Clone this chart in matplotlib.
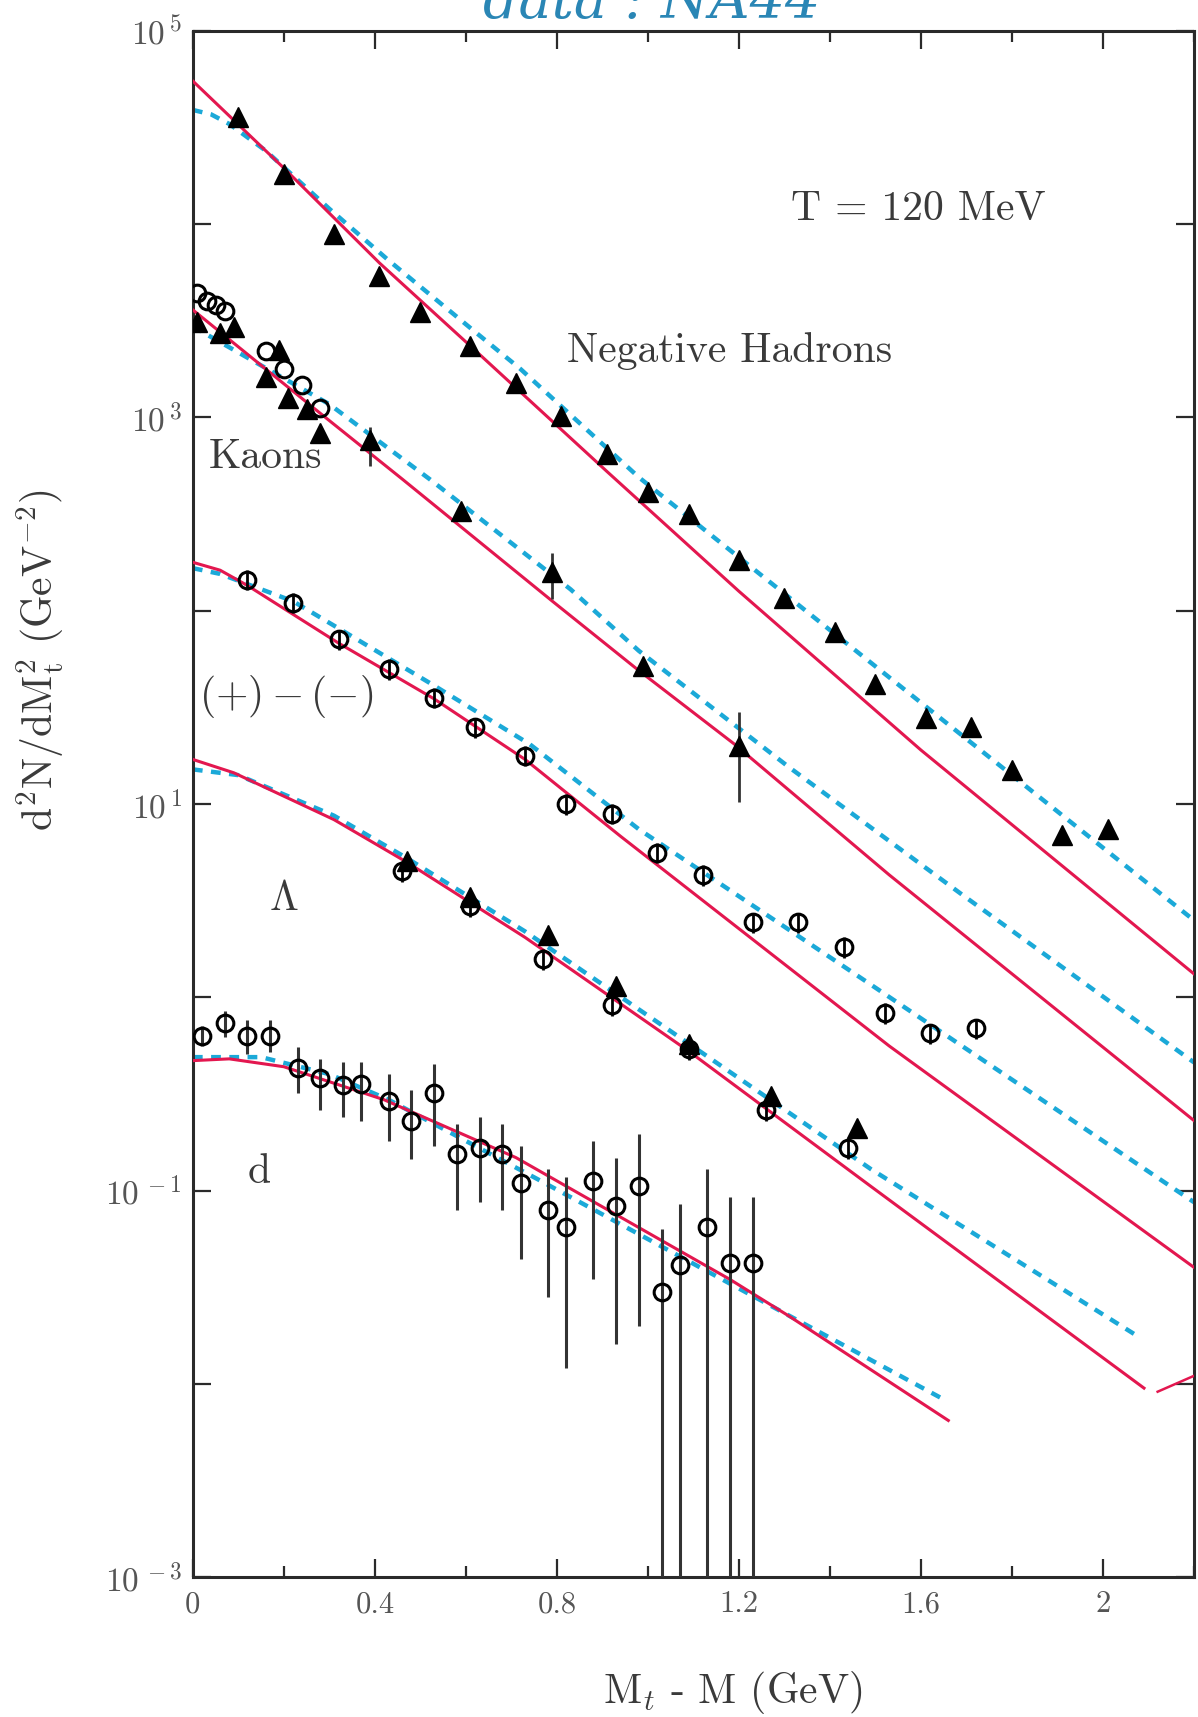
import matplotlib
matplotlib.use("Agg")
import matplotlib.pyplot as plt
from matplotlib.ticker import FixedLocator, FixedFormatter, MultipleLocator

plt.rcParams['font.family'] = ['cmr10', 'DejaVu Serif']
plt.rcParams['mathtext.fontset'] = 'cm'
plt.rcParams['axes.unicode_minus'] = False

# ---- data ----
# negative hadrons (filled triangles)
had_x = [0.10, 0.20, 0.31, 0.41, 0.50, 0.61, 0.71, 0.81, 0.91, 1.00,
         1.09, 1.20, 1.30, 1.41, 1.50, 1.61, 1.71, 1.80, 1.91, 2.01]
had_y = [3.6e4, 1.82e4, 8.9e3, 5.4e3, 3.5e3, 2.35e3, 1.5e3, 1.02e3, 650, 410,
         316, 182, 117, 78, 42, 28, 25, 15, 6.9, 7.4]

# kaons: filled triangles (with a few error bars) and open circles
kt_x = [0.01, 0.06, 0.09, 0.16, 0.19, 0.21, 0.25, 0.28, 0.39, 0.59, 0.79, 0.99, 1.20]
kt_y = [3.1e3, 2.75e3, 2.95e3, 1.62e3, 2.24e3, 1.26e3, 1.1e3, 830, 760, 330, 158, 52, 20]
kt_lo = [0, 0, 0, 0, 0, 0, 0, 0, 200, 0, 43, 0, 9.8]
kt_hi = [0, 0, 0, 0, 0, 0, 0, 0, 130, 0, 42, 0, 10]
kc_x = [0.01, 0.03, 0.05, 0.07, 0.16, 0.20, 0.24, 0.28]
kc_y = [4.4e3, 4.0e3, 3.8e3, 3.55e3, 2.2e3, 1.78e3, 1.48e3, 1.12e3]

# (+) - (-)  (open circles)
pm_x = [0.12, 0.22, 0.32, 0.43, 0.53, 0.62, 0.73, 0.82, 0.92, 1.02,
        1.12, 1.23, 1.33, 1.43, 1.52, 1.62, 1.72]
pm_y = [145, 110, 71, 50, 35.5, 25, 17.8, 10, 8.9, 5.6,
        4.3, 2.45, 2.45, 1.82, 0.83, 0.65, 0.69]

# lambda: triangles and circles
lt_x = [0.47, 0.61, 0.78, 0.93, 1.09, 1.27, 1.46]
lt_y = [5.1, 3.3, 2.1, 1.15, 0.575, 0.31, 0.21]
lc_x = [0.46, 0.61, 0.77, 0.92, 1.09, 1.26, 1.44]
lc_y = [4.5, 2.95, 1.58, 0.91, 0.54, 0.26, 0.166]

# deuterons (open circles, error bar ends)
d_x = [0.02, 0.07, 0.12, 0.17, 0.23, 0.28, 0.33, 0.37, 0.43, 0.48, 0.53, 0.58, 0.63,
       0.68, 0.72, 0.78, 0.82, 0.88, 0.93, 0.98, 1.03, 1.07, 1.13, 1.18, 1.23]
d_y = [0.63, 0.74, 0.63, 0.63, 0.43, 0.38, 0.35, 0.355, 0.29, 0.23, 0.32, 0.155, 0.166,
       0.155, 0.11, 0.079, 0.065, 0.112, 0.083, 0.105, 0.030, 0.041, 0.065, 0.042, 0.042]
d_hi = [0.71, 0.85, 0.76, 0.76, 0.55, 0.48, 0.46, 0.46, 0.40, 0.33, 0.45, 0.22, 0.24,
        0.22, 0.17, 0.13, 0.118, 0.18, 0.147, 0.195, 0.063, 0.085, 0.13, 0.093, 0.093]
d_lo = [0.56, 0.62, 0.51, 0.52, 0.32, 0.26, 0.24, 0.23, 0.18, 0.145, 0.17, 0.079, 0.087,
        0.079, 0.044, 0.028, 0.012, 0.035, 0.016, 0.020, 1e-4, 1e-4, 1e-4, 1e-4, 1e-4]

# model curves (solid red / dashed cyan), knots
had_red_x = [0, 0.2, 0.41, 0.61, 0.91, 1.2, 1.6, 2.2]
had_red_y = [5.5e4, 1.95e4, 6.3e3, 2.34e3, 525, 126, 19, 1.32]
had_cy_x = [0, 0.04, 0.08, 0.16, 0.3, 0.43, 0.61, 0.72, 0.98, 1.41, 2.2]
had_cy_y = [3.9e4, 3.7e4, 3.3e4, 2.4e4, 1.2e4, 6.5e3, 2.9e3, 1.78e3, 490, 76, 2.5]

k_red_x = [0, 0.28, 0.46, 0.79, 0.98, 1.19, 1.53, 2.2]
k_red_y = [3.6e3, 1.05e3, 480, 112, 49, 20.4, 4.3, 0.23]
k_cy_x = [0, 0.3, 0.52, 0.83, 0.98, 1.31, 1.69, 2.2]
k_cy_y = [2.95e3, 1.17e3, 480, 129, 62, 15.5, 3.4, 0.46]

pm_red_x = [0, 0.06, 0.12, 0.32, 0.53, 0.73, 0.94, 1.53, 2.2]
pm_red_y = [178, 162, 135, 68, 35, 17, 6.8, 0.56, 0.040]
pm_cy_x = [0, 0.06, 0.22, 0.34, 0.53, 0.74, 0.98, 1.5, 2.2]
pm_cy_y = [166, 155, 112, 76, 41, 20.4, 7.4, 1.12, 0.087]

l_red_x = [0, 0.09, 0.31, 0.47, 0.73, 1.09, 1.49, 2.09]
l_red_y = [17, 14.5, 8.3, 5.0, 2.04, 0.525, 0.105, 0.0095]
l_cy_x = [0, 0.1, 0.31, 0.47, 0.73, 1.09, 1.49, 2.08]
l_cy_y = [15.1, 14.1, 8.7, 5.25, 2.19, 0.575, 0.129, 0.0174]
l_tail_x = [2.12, 2.2]
l_tail_y = [0.0091, 0.011]

d_red_x = [0, 0.08, 0.2, 0.42, 0.71, 1.18, 1.31, 1.66]
d_red_y = [0.47, 0.48, 0.437, 0.295, 0.148, 0.0347, 0.0224, 0.00646]
d_cy_x = [0, 0.15, 0.3, 0.43, 0.75, 1.18, 1.65]
d_cy_y = [0.49, 0.49, 0.40, 0.295, 0.117, 0.033, 0.0083]

x_ticks = [0, 0.4, 0.8, 1.2, 1.6, 2.0]
x_labels = ['0', '0.4', '0.8', '1.2', '1.6', '2']
y_ticks = [1e-3, 1e-2, 1e-1, 1, 10, 1e2, 1e3, 1e4, 1e5]
y_labels = [r'$10^{\,-3}$', '', r'$10^{\,-1}$', '', r'$10^{\,1}$', '', r'$10^{\,3}$', '', r'$10^{\,5}$']

RED = '#e3174f'
CYAN = '#1ba9d8'
INK = '#2a2a2a'

fig = plt.figure(figsize=(11.98, 17.17), dpi=100)
ax = fig.add_axes([0.161, 0.0815, 0.8357, 0.9005])

curves = [(had_red_x, had_red_y, had_cy_x, had_cy_y),
          (k_red_x, k_red_y, k_cy_x, k_cy_y),
          (pm_red_x, pm_red_y, pm_cy_x, pm_cy_y),
          (l_red_x, l_red_y, l_cy_x, l_cy_y),
          (d_red_x, d_red_y, d_cy_x, d_cy_y)]
for rx, ry, cx, cy in curves:
	ax.plot(cx, cy, color=CYAN, lw=3.2, ls=(0, (2.2, 1.9)), zorder=2)
	ax.plot(rx, ry, color=RED, lw=2.2, zorder=3)
ax.plot(l_tail_x, l_tail_y, color=RED, lw=1.8, zorder=3)

tri = dict(marker='^', ls='none', color='black', ms=15, zorder=5)
circ = dict(marker='o', ls='none', mfc='none', mec='black', mew=2.2, ms=12, zorder=5)

ax.plot(had_x, had_y, **tri)

ax.errorbar(kt_x, kt_y, yerr=[kt_lo, kt_hi], ecolor='#333333', elinewidth=2, capsize=0, **tri)
ax.plot(kc_x, kc_y, **circ)

pm_err = [[v * 0.12 for v in pm_y], [v * 0.12 for v in pm_y]]
ax.errorbar(pm_x, pm_y, yerr=pm_err, ecolor='black', elinewidth=2, capsize=0, **circ)

ax.plot(lt_x, lt_y, **tri)
ax.errorbar(lc_x, lc_y, yerr=[[v * 0.12 for v in lc_y], [v * 0.12 for v in lc_y]],
            ecolor='black', elinewidth=2, capsize=0, **circ)

d_err = [[y - lo for y, lo in zip(d_y, d_lo)], [hi - y for y, hi in zip(d_y, d_hi)]]
ax.errorbar(d_x, d_y, yerr=d_err, ecolor='#333333', elinewidth=2.2, capsize=0, **circ)

ax.set_yscale('log')
ax.set_xlim(0, 2.2)
ax.set_ylim(1e-3, 1e5)

ax.xaxis.set_major_locator(FixedLocator(x_ticks))
ax.xaxis.set_major_formatter(FixedFormatter(x_labels))
ax.xaxis.set_minor_locator(MultipleLocator(0.2))
ax.yaxis.set_major_locator(FixedLocator(y_ticks))
ax.yaxis.set_major_formatter(FixedFormatter(y_labels))
ax.yaxis.set_minor_locator(FixedLocator([]))

ax.tick_params(which='both', direction='in', top=True, right=True, colors=INK,
               labelcolor='#555555', width=1.6)
ax.tick_params(which='major', length=13, pad=10)
ax.tick_params(which='minor', length=8)
ax.tick_params(axis='x', labelsize=22)
ax.tick_params(axis='y', labelsize=24, pad=8)
for s in ax.spines.values():
	s.set_linewidth(2.2)
	s.set_color(INK)

txt = dict(color='#3a3a3a', fontsize=30)
ax.text(1.595, 1.2e4, 'T = 120 MeV', ha='center', va='center', **txt)
ax.text(1.18, 2.2e3, 'Negative Hadrons', ha='center', va='center', **txt)
ax.text(0.16, 6.2e2, 'Kaons', ha='center', va='center', **txt)
ax.text(0.206, 36, r'$(+)-(-)$', ha='center', va='center', **txt)
ax.text(0.199, 3.2, r'$\Lambda$', ha='center', va='center', **txt)
ax.text(0.145, 0.125, 'd', ha='center', va='center', **txt)

fig.text(40 / 1198, 1 - 660 / 1717, r'$\mathrm{d^2N/dM_t^2\ (GeV^{-2})}$',
         rotation=90, ha='center', va='center', color='#3a3a3a', fontsize=30)
fig.text(733 / 1198, 1 - 1692 / 1717, r'M$_t$ - M (GeV)',
         ha='center', va='center', color='#3a3a3a', fontsize=30)
# handwritten note, only its lower half shows on the scan
fig.text(0.544, 0.9985, 'data : NA44', ha='center', va='center', color='#2a86b5',
         fontsize=40, style='italic', family='DejaVu Serif')

fig.savefig('out.png', dpi=100)
